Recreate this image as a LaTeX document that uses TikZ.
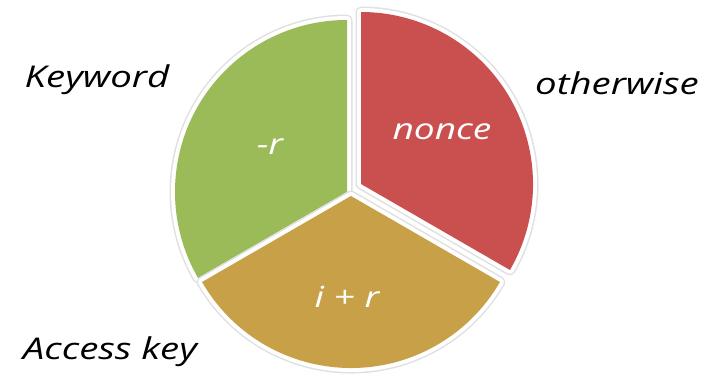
\documentclass[tikz,border=0pt]{standalone}
\usepackage{fontspec}
\setmainfont{Open Sans}
\newfontfamily\lblfont{Open Sans}[FakeStretch=1.28, ItalicFeatures={FakeStretch=1.28}]
\definecolor{pgreen}{HTML}{9BBB59}
\definecolor{pred}{HTML}{C9504F}
\definecolor{pgold}{HTML}{C8A048}
\begin{document}
\begin{tikzpicture}[x=1pt,y=1pt,
  lbl/.style={font=\lblfont\fontsize{30}{36}\selectfont\itshape, text=black},
  inlbl/.style={font=\lblfont\fontsize{29}{36}\selectfont\itshape, text=white}]
\useasboundingbox (0,0) rectangle (713,380);
\def\R{172}
% slice macro: center, start, end, color
\newcommand{\myslice}[4]{%
  \draw[black!12, line width=11pt, line join=round] (#1) -- ++(#2:\R) arc[start angle=#2, end angle=#3, radius=\R] -- cycle;
  \draw[white, line width=8pt, line join=round] (#1) -- ++(#2:\R) arc[start angle=#2, end angle=#3, radius=\R] -- cycle;
  \fill[#4] (#1) -- ++(#2:\R) arc[start angle=#2, end angle=#3, radius=\R] -- cycle;}
\coordinate (cg) at (347,188);
\coordinate (cy) at (351,184);
\coordinate (cr) at (361,196);
\myslice{cg}{90}{210}{pgreen}
\myslice{cy}{210}{330}{pgold}
\myslice{cr}{-30}{90}{pred}
\node[inlbl] (t1) at (270,233) {-r};
\node[inlbl] (t2) at (442,248) {nonce};
\node[inlbl] (t3) at (347,83) {i + r};
\node[lbl] (k) at (97,300) {Keyword};
\node[lbl] (o) at (617,297) {otherwise};
\node[lbl] (a) at (110,28) {Access key};
\end{tikzpicture}
\end{document}
